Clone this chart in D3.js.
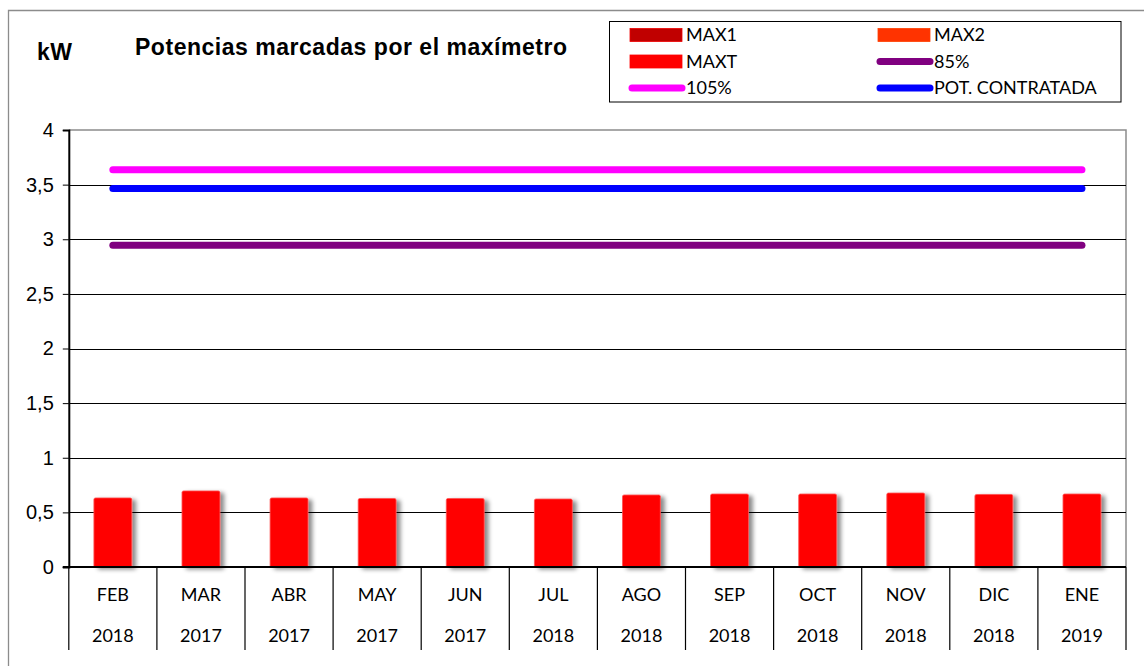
<!DOCTYPE html>
<html><head><meta charset="utf-8">
<script src="https://cdn.jsdelivr.net/npm/d3@7"></script>
<style>body{margin:0;background:#fff}svg{display:block}</style>
</head><body>
<script>
const months = ["FEB","MAR","ABR","MAY","JUN","JUL","AGO","SEP","OCT","NOV","DIC","ENE"];
const years = ["2018","2017","2017","2017","2017","2018","2018","2018","2018","2018","2018","2019"];
const maxT = [0.632,0.696,0.632,0.627,0.627,0.622,0.659,0.668,0.668,0.677,0.664,0.668];
const potContratada = [3.464,3.464,3.464,3.464,3.464,3.464,3.464,3.464,3.464,3.464,3.464,3.464];
const p85 = [2.944,2.944,2.944,2.944,2.944,2.944,2.944,2.944,2.944,2.944,2.944,2.944];
const p105 = [3.637,3.637,3.637,3.637,3.637,3.637,3.637,3.637,3.637,3.637,3.637,3.637];
const yTicks = [0,0.5,1,1.5,2,2.5,3,3.5,4];
const yTickLabels = ["0","0,5","1","1,5","2","2,5","3","3,5","4"];

const W=1144,H=666;
const svg=d3.select("body").append("svg").attr("width",W).attr("height",H);
const defs=svg.append("defs");
const f=defs.append("filter").attr("id","sh").attr("x","-20%").attr("y","-20%").attr("width","160%").attr("height","140%");
f.append("feDropShadow").attr("dx",4).attr("dy",2).attr("stdDeviation",2.2).attr("flood-color","#000").attr("flood-opacity",0.45);

// outer border
svg.append("path").attr("d","M8.5,700V10.5H1200").attr("fill","none").attr("stroke","#8c8c8c").attr("stroke-width",1.3);

const L=68.8,R=1126,T=130,B=567;
const x=d3.scaleBand().domain(months.map((m,i)=>i)).range([L,R]).paddingInner(0).paddingOuter(0);
const y=d3.scaleLinear().domain([0,4]).range([B,T]);

// plot border top/right
svg.append("path").attr("d",`M${L},${T}H${R}V${B}`).attr("fill","none").attr("stroke","#8c8c8c").attr("stroke-width",1.5);

// gridlines
svg.append("g").selectAll("line").data(yTicks.filter(v=>v>0&&v<4)).join("line")
 .attr("x1",L).attr("x2",R).attr("y1",d=>Math.round(y(d))+0.5).attr("y2",d=>Math.round(y(d))+0.5)
 .attr("stroke","#000").attr("stroke-width",1);

// y axis
const ya=svg.append("g").attr("transform",`translate(${L},0)`).call(d3.axisLeft(y).tickValues(yTicks).tickFormat((d,i)=>yTickLabels[i]).tickSize(6).tickPadding(9));
ya.select(".domain").attr("stroke","#000").attr("stroke-width",2);
ya.selectAll(".tick line").attr("stroke","#000");
ya.selectAll("text").attr("font-family","Liberation Sans, Arial, sans-serif").attr("font-size",20).attr("fill","#000");

// bars
svg.append("g").selectAll("rect").data(maxT).join("rect")
 .attr("x",(d,i)=>x(i)+x.bandwidth()*0.285).attr("width",x.bandwidth()*0.43)
 .attr("y",d=>y(d)).attr("height",d=>B-y(d))
 .attr("fill","#ff0000").attr("stroke","#ff5050").attr("stroke-width",0.8).attr("rx",1.5)
 .attr("filter","url(#sh)");

// x axis baseline
svg.append("line").attr("x1",L-6).attr("x2",R).attr("y1",B).attr("y2",B).attr("stroke","#000").attr("stroke-width",2);
// category separators
const seps=d3.range(months.length+1).map(i=>i===months.length?R:x(i));
svg.append("g").selectAll("line").data(seps).join("line")
 .attr("x1",d=>d).attr("x2",d=>d).attr("y1",B).attr("y2",650).attr("stroke","#000").attr("stroke-width",1.2);
svg.append("g").selectAll("text").data(months).join("text")
 .attr("x",(d,i)=>x(i)+x.bandwidth()/2).attr("y",601).attr("text-anchor","middle")
 .attr("font-family","Lato, Open Sans, sans-serif").attr("font-size",18).text(d=>d);
svg.append("g").selectAll("text").data(years).join("text")
 .attr("x",(d,i)=>x(i)+x.bandwidth()/2).attr("y",642).attr("text-anchor","middle")
 .attr("font-family","Lato, Open Sans, sans-serif").attr("font-size",18).text(d=>d);

// reference lines
const line=d3.line().x((d,i)=>x(i)+x.bandwidth()/2).y(d=>y(d));
[[p105,"#ff00ff"],[potContratada,"#0000ff"],[p85,"#800080"]].forEach(([data,c])=>{
 svg.append("path").datum(data).attr("d",line).attr("fill","none").attr("stroke",c).attr("stroke-width",7).attr("stroke-linecap","round");
});

// titles
svg.append("text").attr("x",37).attr("y",60).attr("font-family","Liberation Sans, Arial, sans-serif").attr("font-weight","bold").attr("font-size",23).attr("textLength",35).text("kW");
svg.append("text").attr("x",135).attr("y",55).attr("font-family","Liberation Sans, Arial, sans-serif").attr("font-weight","bold").attr("font-size",23).attr("textLength",432).text("Potencias marcadas por el maxímetro");

// legend
svg.append("rect").attr("x",609.5).attr("y",21.5).attr("width",511.5).attr("height",80.5).attr("fill","#fff").attr("stroke","#000").attr("stroke-width",1);
const legend=[
 {name:"MAX1",color:"#c00000",type:"rect",col:0,row:0},
 {name:"MAX2",color:"#ff3300",type:"rect",col:1,row:0},
 {name:"MAXT",color:"#ff0000",type:"rect",col:0,row:1},
 {name:"85%",color:"#800080",type:"line",col:1,row:1},
 {name:"105%",color:"#ff00ff",type:"line",col:0,row:2},
 {name:"POT. CONTRATADA",color:"#0000ff",type:"line",col:1,row:2}
];
const lg=svg.append("g").selectAll("g").data(legend).join("g")
 .attr("transform",d=>`translate(${d.col?878:630},${35+d.row*26.5})`);
lg.filter(d=>d.type==="rect").append("rect").attr("x",0).attr("y",-6.5).attr("width",52).attr("height",13).attr("fill",d=>d.color).attr("stroke",d=>d3.color(d.color).brighter(0.6)).attr("stroke-width",0.8);
lg.filter(d=>d.type==="line").append("line").attr("x1",2).attr("x2",52).attr("y1",0).attr("y2",0).attr("stroke",d=>d.color).attr("stroke-width",7).attr("stroke-linecap","round");
lg.append("text").attr("x",56).attr("y",6).attr("font-family","Lato, Open Sans, sans-serif").attr("font-size",18).text(d=>d.name);
</script>
</body></html>
